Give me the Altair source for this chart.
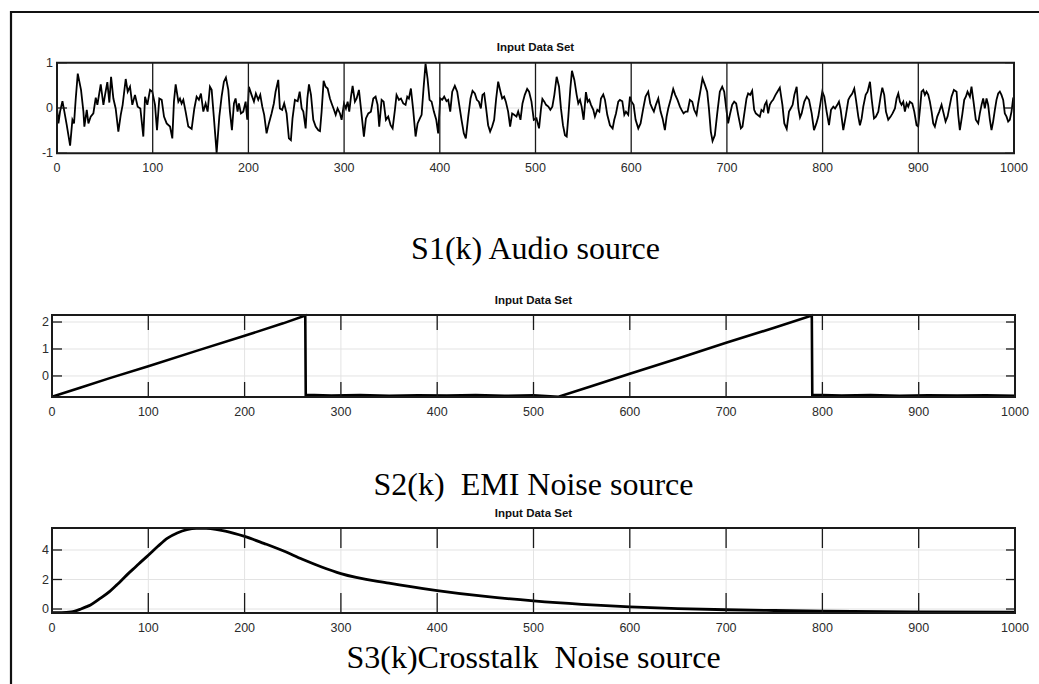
import altair as alt
import pandas as pd

# ---------------- data ----------------
x_ticks = [0, 100, 200, 300, 400, 500, 600, 700, 800, 900, 1000]

# S1(k) audio source, (k, value) pairs in four stretches
audio_a = [(0, 0.00), (1.5, -0.34), (3.2, -0.08), (5.7, 0.15), (7.7, -0.08), (10.2, -0.38), (13.7, -0.83),
           (16.1, -0.26), (17.8, -0.34), (19.6, 0.21), (21.7, 0.76), (25.1, 0.40), (27.6, -0.08), (28.6, -0.41),
           (31.1, -0.04), (32.8, -0.34), (35.2, -0.19), (38.0, -0.12), (40.5, 0.23), (42.2, 0.07), (45.7, 0.52),
           (48.5, 0.07), (50.2, 0.29), (52.6, 0.57), (54.7, 0.12), (56.5, 0.69), (58.9, 0.21), (61.3, -0.01),
           (64.1, -0.52), (66.6, -0.15), (68.6, 0.07), (71.8, 0.64), (73.9, 0.36), (76.3, 0.47), (78.7, 0.07),
           (81.5, 0.29), (84.3, 0.03), (87.1, -0.01), (90.2, -0.63), (92.0, 0.25), (94.4, 0.07), (97.2, 0.40),
           (99.6, 0.36), (102.4, 0.07), (104.5, -0.49), (106.9, 0.21), (109.4, 0.18), (111.8, -0.19), (114.6, -0.34),
           (118.1, -0.41), (120.5, -0.67), (122.2, 0.14), (124.0, 0.52), (126.8, 0.14), (128.5, 0.21), (130.2, 0.10),
           (132.0, 0.18), (134.4, -0.08), (137.2, -0.41), (140.7, -0.46), (143.5, -0.01), (145.9, 0.25), (148.3, 0.18),
           (150.4, 0.32), (152.9, -0.08), (155.3, 0.10), (157.4, -0.08), (159.8, 0.47), (161.6, 0.40), (164.0, -0.23),
           (166.8, -0.99), (169.6, -0.19), (172.0, 0.25), (174.4, 0.58), (176.5, 0.67), (179.0, 0.40), (180.7, -0.08),
           (182.8, -0.49), (184.9, 0.10), (186.6, 0.21), (188.7, -0.08), (190.1, 0.10), (192.2, -0.12), (194.6, -0.08),
           (197.1, 0.14), (198.8, -0.26), (200.5, 0.47), (203.3, 0.29), (205.8, 0.14), (207.8, 0.32), (210.3, 0.18),
           (212.4, 0.29), (214.5, 0.03), (216.5, -0.15), (219.0, -0.56), (221.4, -0.34), (224.2, -0.12), (226.6, 0.10),
           (228.4, 0.36), (231.2, 0.62), (232.9, -0.01), (235.3, -0.04), (237.4, 0.10), (239.9, -0.12), (242.3, -0.67),
           (244.4, -0.71), (246.1, -0.23), (248.6, 0.18)]
audio_b = [(251.5, 0.15), (253.6, 0.36), (255.7, -0.01), (257.4, -0.08), (259.8, -0.45), (261.6, 0.21), (263.3, 0.52),
           (265.4, 0.29), (267.8, -0.26), (270.3, -0.41), (273.1, -0.49), (274.8, -0.51), (276.5, -0.08), (278.6, 0.60),
           (280.7, 0.47), (282.8, 0.43), (285.2, 0.21), (287.0, 0.10), (289.4, -0.04), (291.2, -0.15), (293.2, -0.01),
           (295.7, -0.12), (297.4, -0.26), (299.9, 0.10), (301.9, -0.01), (303.7, 0.14), (305.4, -0.08), (307.2, 0.25),
           (308.9, 0.49), (311.3, 0.14), (313.1, 0.21), (315.5, 0.40), (317.6, -0.01), (320.7, -0.63), (322.8, -0.23),
           (325.3, -0.12), (328.0, -0.08), (330.5, 0.21), (332.9, 0.25), (335.0, 0.07), (336.7, -0.41), (339.2, 0.18),
           (341.3, 0.14), (343.7, -0.26), (346.1, -0.19), (348.6, -0.38), (350.7, -0.45), (353.1, -0.04), (354.8, 0.29),
           (357.3, 0.18), (359.4, 0.21), (361.8, 0.10), (364.2, 0.07), (366.0, 0.25), (367.7, 0.21), (369.8, 0.43),
           (372.2, -0.04), (374.7, -0.63), (376.8, -0.34), (379.2, -0.23), (381.0, -0.15), (383.0, 0.43), (385.1, 0.98),
           (387.2, 0.65), (389.3, 0.18), (391.4, 0.14), (393.8, -0.08), (396.3, -0.26), (398.3, -0.56), (400.4, 0.21),
           (402.5, 0.18), (404.6, 0.25), (407.0, 0.15), (408.8, 0.18), (410.9, -0.08), (413.0, 0.36), (415.7, 0.49),
           (418.2, 0.36), (420.3, 0.07), (422.7, -0.26), (425.1, -0.56), (427.2, -0.67), (429.7, -0.19), (432.1, 0.21),
           (434.2, 0.38), (436.6, 0.32), (438.7, 0.18), (440.8, 0.14), (442.9, -0.01), (444.6, 0.29), (446.4, 0.32),
           (448.4, -0.01), (450.5, -0.38), (452.6, -0.52), (454.7, -0.41), (456.8, -0.26), (458.9, 0.21), (461.0, 0.58),
           (463.4, 0.36), (465.2, 0.21), (467.2, 0.25), (469.0, 0.14), (471.4, -0.08), (473.5, -0.41), (475.6, -0.12),
           (477.7, -0.15), (480.1, -0.19), (481.9, -0.08), (484.3, -0.26), (486.4, 0.10), (488.8, 0.29), (491.3, 0.42),
           (493.3, 0.36), (495.8, 0.14), (498.2, -0.26), (501.0, -0.23)]
audio_c = [(503.7, -0.45), (505.8, -0.01), (507.2, 0.20), (509.2, 0.14), (511.0, 0.07), (513.4, 0.03), (515.5, -0.04),
           (517.6, 0.03), (519.7, 0.29), (522.1, 0.69), (524.6, 0.47), (526.6, -0.01), (528.7, -0.38), (530.8, -0.60),
           (532.6, -0.63), (534.3, -0.19), (536.4, 0.43), (538.1, 0.82), (540.6, 0.62), (543.0, 0.29), (544.7, 0.10),
           (546.5, 0.18), (548.2, 0.03), (550.3, -0.26), (552.7, 0.35), (554.5, 0.14), (556.2, 0.18), (558.0, 0.07),
           (560.4, -0.04), (562.1, -0.19), (564.6, -0.04), (566.7, -0.08), (568.4, 0.21), (570.8, 0.30), (572.6, 0.18),
           (575.0, -0.15), (577.8, -0.38), (580.6, -0.45), (582.3, -0.26), (584.1, -0.12), (586.5, 0.14), (588.2, 0.18),
           (590.7, 0.15), (592.8, -0.15), (594.5, -0.08), (596.9, -0.15), (598.7, 0.25), (600.4, 0.14), (602.5, 0.07),
           (604.6, -0.26), (607.4, -0.45), (609.8, -0.34), (612.6, -0.01), (615.0, 0.25), (617.8, 0.36), (619.9, 0.10),
           (622.0, -0.01), (623.7, -0.08), (625.8, 0.07), (628.3, 0.21), (630.7, -0.08), (632.8, -0.23), (635.2, -0.49),
           (637.0, -0.19), (638.7, -0.01), (641.5, 0.21), (643.9, 0.42), (646.0, 0.29), (648.4, 0.18), (650.9, 0.03),
           (652.6, -0.04), (654.7, -0.12), (656.8, -0.08), (658.9, -0.08), (661.3, 0.18), (663.8, 0.14), (665.8, -0.04),
           (668.3, -0.15), (670.0, 0.10), (672.5, 0.40), (674.5, 0.65), (677.0, 0.51), (679.4, 0.36), (681.2, -0.01),
           (683.2, -0.52), (685.0, -0.73), (687.4, -0.60), (689.9, -0.12), (692.6, 0.36), (695.1, 0.47), (697.2, 0.36),
           (699.3, -0.01), (701.3, -0.34), (703.1, -0.15), (705.5, 0.07), (707.6, 0.14), (709.7, 0.10), (711.8, -0.15),
           (714.6, -0.45), (716.3, -0.41), (718.0, -0.15), (720.5, 0.21), (722.2, 0.32), (724.3, 0.29), (726.4, 0.38),
           (728.5, -0.04), (730.2, -0.12), (732.0, -0.15), (734.4, -0.19), (736.1, -0.04), (738.2, -0.08), (739.6, 0.07),
           (741.4, 0.14), (743.1, -0.12), (744.8, 0.07), (746.6, 0.14), (748.3, 0.18), (750.8, 0.29), (752.8, 0.36),
           (755.3, 0.45)]
audio_d = [(758.0, 0.07), (760.0, -0.34), (762.5, -0.46), (764.9, -0.08), (766.7, -0.01), (768.7, 0.07), (770.5, 0.29),
           (772.9, 0.47), (774.7, -0.01), (776.4, -0.21), (778.1, -0.12), (780.9, 0.14), (783.4, 0.25), (785.8, 0.18),
           (788.6, -0.12), (791.0, -0.49), (793.5, -0.34), (795.5, -0.19), (798.0, 0.14), (799.7, 0.36), (801.8, 0.25),
           (804.2, -0.08), (806.7, -0.38), (808.8, -0.04), (811.2, 0.03), (813.0, -0.01), (815.4, 0.07), (817.1, 0.14),
           (818.9, -0.04), (821.6, -0.49), (824.1, -0.19), (826.9, 0.18), (828.6, 0.25), (831.0, 0.32), (833.1, 0.43),
           (834.9, 0.18), (837.3, -0.19), (839.0, -0.38), (840.8, -0.23), (842.5, 0.03), (845.0, 0.29), (847.0, 0.36),
           (849.5, 0.58), (851.2, 0.21), (853.7, -0.23), (855.7, -0.19), (858.2, -0.08), (860.6, 0.25), (862.4, 0.45),
           (864.4, 0.29), (866.2, -0.08), (868.6, -0.26), (871.1, -0.19), (873.1, -0.12), (875.6, -0.01), (877.3, 0.21),
           (879.1, 0.32), (880.8, 0.14), (882.5, 0.07), (884.3, 0.14), (886.0, -0.08), (887.8, 0.10), (889.5, 0.03),
           (891.2, 0.14), (893.7, 0.10), (895.8, -0.08), (898.2, -0.38), (899.9, -0.41), (902.0, 0.03), (903.4, 0.36),
           (905.2, 0.40), (906.9, 0.29), (908.6, 0.36), (910.4, 0.29), (912.1, 0.14), (913.9, -0.08), (915.6, -0.34),
           (917.3, -0.41), (919.8, -0.19), (921.9, -0.08), (924.3, 0.07), (926.0, -0.08), (928.5, -0.30), (930.6, -0.19),
           (933.0, 0.07), (934.7, 0.25), (937.2, 0.40), (940.0, 0.36), (941.7, -0.15), (943.4, -0.49), (945.9, -0.15),
           (948.0, 0.18), (949.7, 0.25), (951.4, 0.36), (953.9, 0.25), (955.6, 0.47), (957.7, 0.14), (960.1, -0.26),
           (962.6, -0.34), (964.3, -0.12), (966.1, 0.07), (967.8, 0.21), (969.5, -0.01), (971.3, 0.21), (973.0, 0.07),
           (974.8, -0.26), (976.5, -0.49), (978.2, -0.30), (980.0, -0.04), (981.7, 0.18), (983.5, 0.32), (985.2, 0.36),
           (986.9, 0.29), (988.7, 0.18), (990.4, -0.12), (992.2, -0.19), (993.9, -0.30), (995.6, -0.26), (997.4, -0.08),
           (999.1, 0.21), (1000.0, 0.25)]

# S2(k) EMI noise source (sawtooth bursts)
saw_k = [0, 30, 60, 100, 150, 200, 240, 263, 263.5, 290, 320, 350, 380, 410, 440, 470, 500, 526,
         560, 600, 650, 700, 750, 789, 789.5, 820, 850, 880, 910, 940, 970, 1000]
saw_v = [-0.77, -0.43, -0.08, 0.36, 0.93, 1.49, 1.95, 2.24, -0.70, -0.73, -0.71, -0.74, -0.72, -0.73, -0.71, -0.74,
         -0.72, -0.77, -0.38, 0.08, 0.65, 1.23, 1.79, 2.24, -0.70, -0.73, -0.71, -0.74, -0.72, -0.73, -0.72, -0.74]

# S3(k) crosstalk noise source
xtalk_k = [0, 10, 20, 30, 36, 40, 50, 60, 67, 70, 80, 85, 90, 100, 110, 120, 130, 140, 150, 160, 170, 180,
           200, 220, 240, 260, 280, 300, 350, 400, 450, 500, 550, 600, 650, 700, 750, 800, 900, 1000]
xtalk_v = [-0.25, -0.25, -0.2, 0.0, 0.16, 0.28, 0.72, 1.2, 1.62, 1.8, 2.45, 2.74, 3.05, 3.64, 4.25, 4.8, 5.15, 5.38,
           5.47, 5.46, 5.4, 5.28, 4.92, 4.45, 3.95, 3.37, 2.85, 2.4, 1.75, 1.25, 0.85, 0.55, 0.32, 0.15, 0.03, -0.05,
           -0.1, -0.14, -0.19, -0.22]

panel_title = "Input Data Set"
NB = "\u00a0"  # keeps the double spaces of the original captions
big_titles = ["S1(k) Audio source", "S2(k) " + NB + "EMI Noise source", "S3(k)Crosstalk " + NB + "Noise source"]

LABEL_FONT = "Liberation Sans Narrow, Liberation Sans, Arial, sans-serif"
SERIF = "Liberation Serif, Times New Roman, serif"


def fmt(t):
    return str(int(t)) if float(t).is_integer() else str(t)


def panel(df, xr, yr, ydom, yticks, xtick_px, full_ticks, vgrid, line_w, interp,
          ylab_dx, big_title, big_dy, title_dy):
    xs = alt.Scale(domain=[0, 1000], range=xr, nice=False, zero=False)
    ys = alt.Scale(domain=ydom, range=yr, nice=False, zero=False)
    y0, y1 = ydom
    du_y = (y1 - y0) / (yr[0] - yr[1])
    du_x = 1000.0 / (xr[1] - xr[0])

    def rules(rows, color, width):
        d = pd.DataFrame(rows, columns=["a", "a2", "b", "b2"])
        return alt.Chart(d).mark_rule(color=color, strokeWidth=width).encode(
            x=alt.X("a:Q", scale=xs, axis=None), x2="a2:Q",
            y=alt.Y("b:Q", scale=ys, axis=None), y2="b2:Q")

    grid_rows = [(0, 1000, t, t) for t in yticks]
    if vgrid:
        grid_rows += [(t, t, y0, y1) for t in x_ticks[1:-1]]
    grid = rules(grid_rows, "#e3e3e3", 1)

    tick_rows = []
    for t in x_ticks[1:-1]:
        if full_ticks:
            tick_rows.append((t, t, y0, y1))
        else:
            tick_rows.append((t, t, y1, y1 - xtick_px * du_y))
            tick_rows.append((t, t, y0, y0 + xtick_px * du_y))
    for t in yticks:
        tick_rows.append((0, 10 * du_x, t, t))
        tick_rows.append((1000 - 9 * du_x, 1000, t, t))
    ticks = rules(tick_rows, "#1a1a1a", 1.3)

    line = alt.Chart(df).mark_line(color="black", strokeWidth=line_w, interpolate=interp).encode(
        x=alt.X("k:Q", scale=xs, axis=None), y=alt.Y("v:Q", scale=ys, axis=None))

    box = alt.Chart(pd.DataFrame({"a": [0], "a2": [1000], "b": [y0], "b2": [y1]})).mark_rect(
        fillOpacity=0, stroke="#1a1a1a", strokeWidth=2).encode(
        x=alt.X("a:Q", scale=xs, axis=None), x2="a2:Q",
        y=alt.Y("b:Q", scale=ys, axis=None), y2="b2:Q")

    xl = pd.DataFrame({"a": x_ticks, "b": [y0] * len(x_ticks), "t": [fmt(t) for t in x_ticks]})
    xlab = alt.Chart(xl).mark_text(baseline="top", dy=9, font=LABEL_FONT, fontSize=12.5, color="#2b2b2b").encode(
        x=alt.X("a:Q", scale=xs, axis=None), y=alt.Y("b:Q", scale=ys, axis=None), text="t:N")

    yl = pd.DataFrame({"a": [0] * len(yticks), "b": yticks, "t": [fmt(t) for t in yticks]})
    ylab = alt.Chart(yl).mark_text(align="right", baseline="middle", dx=ylab_dx, font=LABEL_FONT,
                                   fontSize=12.5, color="#2b2b2b").encode(
        x=alt.X("a:Q", scale=xs, axis=None), y=alt.Y("b:Q", scale=ys, axis=None), text="t:N")

    tt = alt.Chart(pd.DataFrame({"a": [500], "b": [y1], "t": [panel_title]})).mark_text(
        baseline="alphabetic", dy=title_dy, font=LABEL_FONT, fontSize=11.5, fontWeight="bold",
        color="#111111").encode(
        x=alt.X("a:Q", scale=xs, axis=None), y=alt.Y("b:Q", scale=ys, axis=None), text="t:N")

    bt = alt.Chart(pd.DataFrame({"a": [500], "b": [y0], "t": [big_title]})).mark_text(
        baseline="alphabetic", dy=big_dy, font=SERIF, fontSize=32, color="black").encode(
        x=alt.X("a:Q", scale=xs, axis=None), y=alt.Y("b:Q", scale=ys, axis=None), text="t:N")

    return alt.layer(grid, line, ticks, box, xlab, ylab, tt, bt)


audio = pd.DataFrame(audio_a + audio_b + audio_c + audio_d, columns=["k", "v"])
saw = pd.DataFrame({"k": saw_k, "v": saw_v})
xtalk = pd.DataFrame({"k": xtalk_k, "v": xtalk_v})

p1 = panel(audio, [57, 1014], [153.3, 62.7], [-1, 1], [-1, 0, 1], None, True, False, 1.8, "linear",
           -4, big_titles[0], 106, -12)
p2 = panel(saw, [52, 1015], [397, 315], [-0.78, 2.26], [0, 1, 2], 15, False, True, 2.6, "linear",
           -3, big_titles[1], 98, -11)
p3 = panel(xtalk, [52, 1015], [613, 528], [-0.27, 5.49], [0, 2, 4], 20, False, True, 2.8, "monotone",
           -3, big_titles[2], 55, -11)

one = pd.DataFrame({"d": [0]})
frame_left = alt.Chart(one).mark_rule(color="#111111", strokeWidth=2.2).encode(
    x=alt.value(11), y=alt.value(11), y2=alt.value(684))
frame_top = alt.Chart(one).mark_rule(color="#111111", strokeWidth=2.2).encode(
    x=alt.value(10), x2=alt.value(1039), y=alt.value(12))

chart = alt.layer(p1, p2, p3, frame_left, frame_top).resolve_scale(
    x="independent", y="independent").properties(
    width=1039, height=684, autosize=alt.AutoSizeParams(type="none"), padding=0, background="white"
).configure_view(stroke=None)

chart.save("out.html", embed_options={"renderer": "svg", "actions": False})
